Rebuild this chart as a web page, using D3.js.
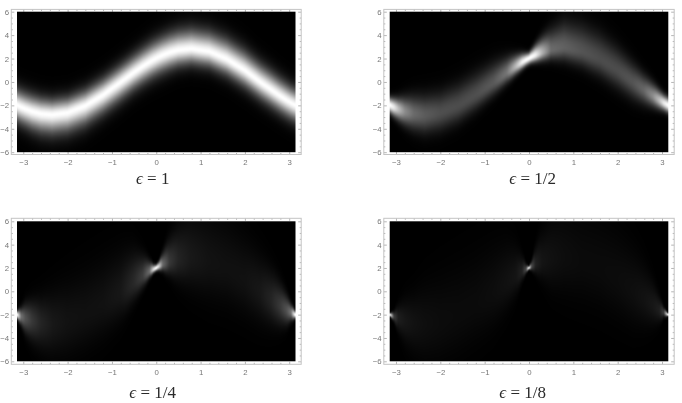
<!DOCTYPE html>
<html lang="en">
<head>
<meta charset="utf-8">
<title>Density for four epsilon values</title>
<script src="https://d3js.org/d3.v7.min.js"></script>
<style type="text/css">
    html, body { margin: 0; padding: 0; background: #fff; }
    svg { display: block; filter: blur(0.35px); }
    .tick text { font-family: "Liberation Sans", Arial, sans-serif; font-size: 7.8px; fill: #777; }
    .tick line { stroke: #b5b5b5; }
    .domain { display: none; }
    .eps { font-family: "Liberation Serif", "DejaVu Serif", serif; font-size: 17px; fill: #2a2a2a; }
</style>
</head>
<body>
<script type="text/javascript">

// Data

const xStops = [-3.1416,-3.05,-2.95,-2.8,-2.6,-2.35,-2,-1.6,-1.2,-0.8,-0.5,-0.3,-0.15,-0.06,0,0.06,0.15,0.3,0.5,0.8,1.2,1.6,2,2.35,2.6,2.8,2.95,3.05,3.1416];

const xTicks = [-3,-2,-1,0,1,2,3];
const yTicks = [-6,-4,-2,0,2,4,6];
const xMinor = d3.range(-15, 16).map(d => d / 5).filter(d => !xTicks.includes(d));
const yMinor = d3.range(-12, 13).map(d => d / 2).filter(d => !yTicks.includes(d));

// ridge height in y, spread above/below the ridge, brightness on the ridge
const center1 = [-2,-2.18,-2.34,-2.55,-2.74,-2.83,-2.65,-2.06,-1.14,-0.04,0.8,1.32,1.68,1.88,2,2.12,2.28,2.5,2.71,2.83,2.59,1.94,0.99,-0.02,-0.68,-1.21,-1.58,-1.81,-2];
const above1  = [.82,.82,.82,.82,.8,.78,.78,.8,.82,.84,.86,.88,.9,.91,.91,.91,.92,.94,.96,.98,.98,.98,.96,.91,.89,.86,.84,.82,.82];
const below1  = [.82,.84,.86,.91,.96,.98,.98,.96,.91,.89,.86,.86,.86,.86,.86,.86,.86,.84,.8,.77,.77,.8,.82,.82,.82,.82,.82,.82,.82];
const peak1   = [1,1,1,1,1,1,1,1,1,1,1,1,1,1,1,1,1,1,1,1,1,1,1,1,1,1,1,1,1];

const center2 = [-2,-2.18,-2.34,-2.55,-2.74,-2.85,-2.65,-2.06,-1.14,-0.1,0.75,1.3,1.68,1.88,2,2.12,2.28,2.5,2.75,2.95,2.6,1.95,1,0,-0.68,-1.2,-1.58,-1.81,-2];
const above2  = [.42,.5,.6,.8,1,1.1,1.15,1.2,1.2,1.1,.85,.62,.46,.36,.32,.4,.55,.8,1.1,1.4,1.45,1.4,1.25,1.05,.85,.7,.55,.45,.42];
const below2  = [.42,.5,.6,.75,.9,1,1,.95,.85,.72,.58,.46,.38,.33,.32,.33,.38,.46,.58,.75,.85,.95,1,.95,.8,.62,.5,.43,.42];
const peak2   = [1,.92,.75,.55,.42,.36,.31,.3,.31,.35,.46,.72,.95,1,1,1,.95,.7,.42,.38,.33,.3,.3,.33,.4,.55,.75,.92,1];

const center3 = [-2,-2.15,-2.3,-2.5,-2.7,-2.8,-2.6,-2,-1.1,-0.1,0.75,1.3,1.7,1.88,2,2.12,2.3,2.5,2.75,2.9,2.6,2,1,0,-0.68,-1.2,-1.58,-1.8,-2];
const above3  = [.2,.45,.8,1.1,1.4,1.8,2.2,2.4,2.4,2.2,1.7,1.1,.55,.25,.17,.25,.6,1.2,1.8,2.4,2.7,2.7,2.4,2,1.6,1.2,.8,.45,.2];
const below3  = [.2,.45,.8,1.1,1.4,1.7,1.9,1.9,1.8,1.5,1,.65,.35,.2,.17,.2,.35,.7,1.2,1.7,2,2,1.9,1.7,1.4,1.1,.8,.45,.2];
const peak3   = [1,.45,.32,.22,.14,.095,.07,.062,.066,.09,.16,.24,.42,.85,1,.85,.42,.22,.14,.095,.07,.062,.066,.09,.14,.22,.32,.45,1];

const center4 = [-2,-2.15,-2.3,-2.5,-2.7,-2.8,-2.6,-2,-1.1,-0.1,0.75,1.3,1.7,1.88,2,2.12,2.3,2.5,2.75,2.9,2.6,2,1,0,-0.68,-1.2,-1.58,-1.8,-2];
const above4  = [.08,.25,.7,1.2,1.6,2.2,2.6,2.8,2.8,2.6,2.2,1.6,.8,.25,.08,.25,.9,1.7,2.3,2.8,3,3,2.8,2.4,1.9,1.3,.7,.25,.08];
const below4  = [.08,.25,.7,1.2,1.6,2,2.2,2.2,2.1,1.9,1.5,1.1,.5,.2,.08,.2,.5,1,1.6,2,2.2,2.2,2.1,1.9,1.5,1.1,.7,.25,.08];
const peak4   = [1,.25,.12,.09,.07,.055,.045,.04,.04,.05,.065,.08,.13,.3,1,.3,.13,.08,.065,.05,.04,.04,.045,.055,.07,.09,.12,.25,1];

const labels = ["1", "1/2", "1/4", "1/8"];

// Layout

const w = 682, h = 403;

const layout = [
    {left: 17,    right: 295.5, top: 11.7,  bottom: 152.2, padX: 5.7, padY: 2.3, labelX: 152.7, labelY: 184, shape: 1.75, tighten: 1},
    {left: 389.7, right: 668.3, top: 11.7,  bottom: 152.2, padX: 5.9, padY: 2.3, labelX: 532.7, labelY: 184, shape: 2, tighten: 1},
    {left: 17,    right: 295.5, top: 221.3, bottom: 361.3, padX: 5.7, padY: 3,   labelX: 152.7, labelY: 398, shape: 2, tighten: 1},
    {left: 389.7, right: 668.3, top: 221.3, bottom: 361.3, padX: 5.9, padY: 3,   labelX: 522.7, labelY: 398, shape: 2, tighten: 1}
];

const series = [
    [center1, above1, below1, peak1],
    [center2, above2, below2, peak2],
    [center3, above3, below3, peak3],
    [center4, above4, below4, peak4]
];

const svg = d3.select("body").append("svg").attr("width", w).attr("height", h);

const grey = d3.scaleLinear().domain([0, 1]).range([0, 255]).clamp(true);

function densityImage(xScale, yScale, s, p) {
    const centerAt = d3.scaleLinear().domain(xStops).range(s[0]);
    const aboveAt = d3.scaleLinear().domain(xStops).range(s[1]);
    const belowAt = d3.scaleLinear().domain(xStops).range(s[2]);
    const peakAt = d3.scaleLinear().domain(xStops).range(s[3]);

    const x0 = xScale.range()[0], x1 = xScale.range()[1];
    const y0 = yScale.range()[1], y1 = yScale.range()[0];
    const cw = Math.round(x1 - x0), ch = Math.round(y1 - y0);

    const canvas = document.createElement("canvas");
    canvas.width = cw;
    canvas.height = ch;
    const ctx = canvas.getContext("2d");
    const img = ctx.createImageData(cw, ch);

    for (let i = 0; i < cw; i++) {
        const x = xScale.invert(x0 + i + 0.5);
        const c = centerAt(x), up = aboveAt(x), down = belowAt(x), top = peakAt(x);
        for (let j = 0; j < ch; j++) {
            const y = yScale.invert(y0 + j + 0.5);
            const d = y - c;
            const sd = (d > 0 ? up : down) * p.tighten;
            const v = grey(top * Math.exp(-0.5 * Math.pow(Math.abs(d) / sd, p.shape)));
            const k = (j * cw + i) * 4;
            img.data[k] = img.data[k + 1] = img.data[k + 2] = v;
            img.data[k + 3] = 255;
        }
    }
    ctx.putImageData(img, 0, 0);
    return canvas.toDataURL();
}

function minusFormat(d) {
    return d < 0 ? "\u2212" + Math.abs(d) : "" + d;
}

layout.forEach((p, n) => {
    const xScale = d3.scaleLinear().domain([-Math.PI, Math.PI]).range([p.left, p.right]);
    const yScale = d3.scaleLinear().domain([-6, 6]).range([p.bottom, p.top]);

    const frameTop = p.top - p.padY, frameBottom = p.bottom + p.padY;
    const frameLeft = p.left - p.padX, frameRight = p.right + p.padX;

    const g = svg.append("g");

    // bottom + top axes
    g.append("g").attr("transform", "translate(0," + frameBottom + ")")
        .call(d3.axisBottom(xScale).tickValues(xMinor).tickSize(-1.5).tickFormat(""));
    g.append("g").attr("transform", "translate(0," + frameBottom + ")")
        .call(d3.axisBottom(xScale).tickValues(xTicks).tickSizeInner(-2.5).tickSizeOuter(0).tickPadding(5).tickFormat(minusFormat));
    g.append("g").attr("transform", "translate(0," + frameTop + ")")
        .call(d3.axisTop(xScale).tickValues(xMinor).tickSize(-1.5).tickFormat(""));
    g.append("g").attr("transform", "translate(0," + frameTop + ")")
        .call(d3.axisTop(xScale).tickValues(xTicks).tickSize(-2.5).tickFormat(""));

    // left + right axes
    g.append("g").attr("transform", "translate(" + frameLeft + ",0)")
        .call(d3.axisLeft(yScale).tickValues(yMinor).tickSize(-1.5).tickFormat(""));
    g.append("g").attr("transform", "translate(" + frameLeft + ",0)")
        .call(d3.axisLeft(yScale).tickValues(yTicks).tickSizeInner(-3).tickSizeOuter(0).tickPadding(2.2).tickFormat(minusFormat));
    g.append("g").attr("transform", "translate(" + frameRight + ",0)")
        .call(d3.axisRight(yScale).tickValues(yMinor).tickSize(-1.5).tickFormat(""));
    g.append("g").attr("transform", "translate(" + frameRight + ",0)")
        .call(d3.axisRight(yScale).tickValues(yTicks).tickSize(-3).tickFormat(""));

    g.append("rect")
        .attr("x", frameLeft)
        .attr("y", frameTop)
        .attr("width", frameRight - frameLeft)
        .attr("height", frameBottom - frameTop)
        .attr("fill", "none")
        .attr("stroke", "#c4c4c4");

    g.append("image")
        .attr("x", p.left)
        .attr("y", p.top)
        .attr("width", p.right - p.left)
        .attr("height", p.bottom - p.top)
        .attr("preserveAspectRatio", "none")
        .attr("href", densityImage(xScale, yScale, series[n], p));

    const label = g.append("text")
        .attr("class", "eps")
        .attr("x", p.labelX)
        .attr("y", p.labelY)
        .attr("text-anchor", "middle");
    label.append("tspan").attr("font-style", "italic").text("\u03f5");
    label.append("tspan").text(" = " + labels[n]);
});

</script>
</body>
</html>
